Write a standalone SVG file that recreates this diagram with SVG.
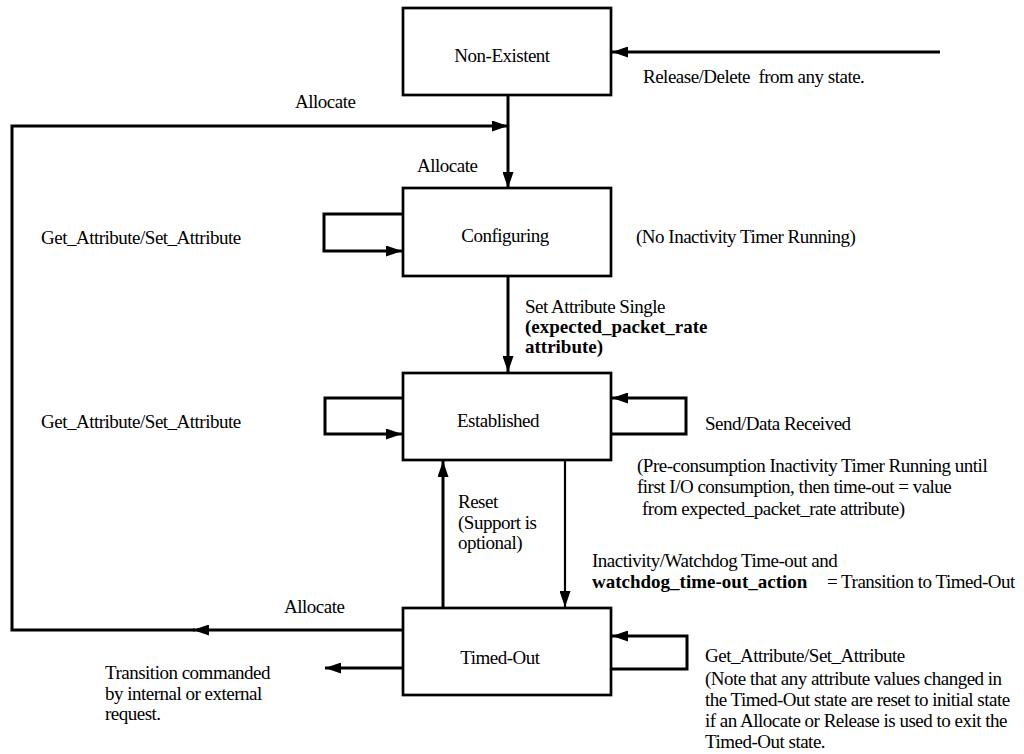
<svg xmlns="http://www.w3.org/2000/svg" width="1024" height="754" viewBox="0 0 1024 754">
  <style>
    text { font-family: "Liberation Serif", "DejaVu Serif", "Noto Serif", serif; font-size: 19px; letter-spacing: -0.5px; fill: #000; }
    .b { font-weight: bold; letter-spacing: 0; }
    .mid { text-anchor: middle; }
    .state { fill: #fff; stroke: #000; stroke-width: 2.7; }
    .edge { fill: none; stroke: #000; stroke-width: 3; marker-end: url(#arrow); }
    .thin { stroke-width: 2.2; }
  </style>
  <defs>
    <marker id="arrow" viewBox="0 0 16 11" refX="16" refY="5.5" markerWidth="16" markerHeight="11" markerUnits="userSpaceOnUse" orient="auto">
      <path d="M0,0 L16,5.5 L0,11 Z" fill="#000"/>
    </marker>
  </defs>
  <rect width="1024" height="754" fill="#fff"/>

  <!-- transitions -->
  <g id="connectors">
    <path class="edge" d="M940,52 H612"/>
    <path class="edge" d="M508,95 V188"/>
    <path class="edge" d="M403,630 H193"/>
    <path class="edge" d="M195,630 H12 V126 H508"/>
    <path class="edge" d="M403,214 H324 V251 H402"/>
    <path class="edge" d="M508,276 V372"/>
    <path class="edge" d="M403,398 H325 V434 H402"/>
    <path class="edge" d="M611,434 H686 V398 H612"/>
    <path class="edge" d="M443,608 V461"/>
    <path class="edge thin" d="M565,460 V607"/>
    <path class="edge" d="M611,669 H687 V636 H612"/>
    <path class="edge" d="M403,668 H325"/>
  </g>

  <!-- transition labels -->
  <g id="labels" font-family="'Liberation Serif', 'DejaVu Serif', serif">
    <text x="295" y="108">Allocate</text>
    <text x="417" y="172">Allocate</text>
    <text x="643" y="83" xml:space="preserve" style="white-space:pre">Release/Delete  from any state.</text>
    <text x="41" y="244">Get_Attribute/Set_Attribute</text>
    <text x="636" y="243">(No Inactivity Timer Running)</text>
    <text x="525" y="313">Set Attribute Single</text>
    <text class="b" x="525" y="333">(expected_packet_rate</text>
    <text class="b" x="525" y="353">attribute)</text>
    <text x="41" y="428">Get_Attribute/Set_Attribute</text>
    <text x="705" y="430">Send/Data Received</text>
    <text x="637" y="472">(Pre-consumption Inactivity Timer Running until</text>
    <text x="637" y="493">first I/O consumption, then time-out = value</text>
    <text x="642" y="515">from expected_packet_rate attribute)</text>
    <text x="458" y="508">Reset</text>
    <text x="458" y="529">(Support is</text>
    <text x="458" y="549">optional)</text>
    <text x="592" y="567">Inactivity/Watchdog Time-out and</text>
    <text class="b" x="592" y="588">watchdog_time-out_action</text>
    <text x="827" y="588">= Transition to Timed-Out</text>
    <text x="284" y="613">Allocate</text>
    <text x="105" y="679">Transition commanded</text>
    <text x="105" y="700">by internal or external</text>
    <text x="105" y="720">request.</text>
    <text x="705" y="662">Get_Attribute/Set_Attribute</text>
    <text x="705" y="685">(Note that any attribute values changed in</text>
    <text x="705" y="706">the Timed-Out state are reset to initial state</text>
    <text x="705" y="727">if an Allocate or Release is used to exit the</text>
    <text x="705" y="748">Timed-Out state.</text>
  </g>

  <!-- states -->
  <g id="non-existent">
    <rect class="state" x="403" y="8" width="208" height="87"/>
    <text class="mid" x="502" y="62">Non-Existent</text>
  </g>
  <g id="configuring">
    <rect class="state" x="403" y="188" width="208" height="88"/>
    <text class="mid" x="505" y="242">Configuring</text>
  </g>
  <g id="established">
    <rect class="state" x="403" y="373" width="208" height="87"/>
    <text class="mid" x="498" y="427">Established</text>
  </g>
  <g id="timed-out">
    <rect class="state" x="403" y="608" width="208" height="87"/>
    <text class="mid" x="500" y="664">Timed-Out</text>
  </g>
</svg>
